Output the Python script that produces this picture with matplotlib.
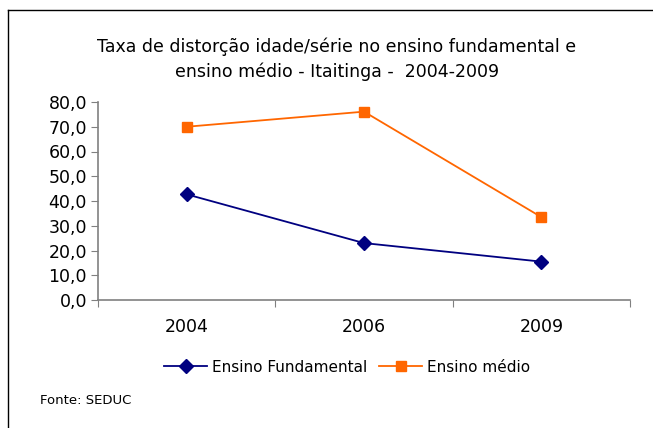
import matplotlib
matplotlib.use("Agg")
import matplotlib.pyplot as plt
from matplotlib.lines import Line2D

plt.rcParams['font.family'] = ['DejaVu Sans']

years = ["2004", "2006", "2009"]
fundamental = [42.7, 23.0, 15.5]
medio = [70.0, 76.1, 33.5]
yticks = [0, 10, 20, 30, 40, 50, 60, 70, 80]

W, H = 653, 428
fig = plt.figure(figsize=(W/100, H/100), dpi=100)
fig.patch.set_facecolor('white')

# outer frame (left and top visible)
fig.add_artist(Line2D([8/W, 8/W], [0, 1 - 10/H], transform=fig.transFigure, color='black', lw=1.0))
fig.add_artist(Line2D([8/W, 1], [1 - 10/H, 1 - 10/H], transform=fig.transFigure, color='black', lw=1.0))

x0, x1 = 98, 630
y0, y1 = 300, 102
ax = fig.add_axes([x0/W, 1 - y0/H, (x1 - x0)/W, (y0 - y1)/H])
xs = [0.5, 1.5, 2.5]
ax.plot(xs, fundamental, color='#000080', lw=1.3, marker='D', markersize=7, label='Ensino Fundamental')
ax.plot(xs, medio, color='#FF6600', lw=1.3, marker='s', markersize=7, label='Ensino médio')
ax.set_xlim(0, 3)
ax.set_ylim(0, 80)
ax.set_yticks(yticks)
ax.set_yticklabels([f"{v:.1f}".replace('.', ',') for v in yticks], fontsize=12.5)
ax.set_xticks([0, 1, 2, 3])
ax.set_xticklabels([])
ax.set_xticks(xs, minor=True)
ax.set_xticklabels(years, minor=True, fontsize=12.5)
ax.tick_params(axis='x', which='minor', length=0, pad=13)
ax.tick_params(axis='x', which='major', length=5, color='#808080', direction='out')
ax.tick_params(axis='y', length=5, color='#808080', direction='out', pad=3)
for s in ['top', 'right']:
    ax.spines[s].set_visible(False)
for s in ['left', 'bottom']:
    ax.spines[s].set_color('#808080')
    ax.spines[s].set_linewidth(1.2)

fig.text(337/W, 1 - 47/H, "Taxa de distorção idade/série no ensino fundamental e", ha='center', va='center', fontsize=12.5)
fig.text(337/W, 1 - 72/H, "ensino médio - Itaitinga -  2004-2009", ha='center', va='center', fontsize=12.5)

leg = fig.legend(loc='center', bbox_to_anchor=(347/W, 1 - 367/H), ncol=2, frameon=False,
                 fontsize=11, handlelength=2.8, columnspacing=0.8, handletextpad=0.3)

fig.text(40/W, 1 - 401/H, "Fonte: SEDUC", ha='left', va='center', fontsize=9.5)

fig.savefig("out.png", dpi=100)
